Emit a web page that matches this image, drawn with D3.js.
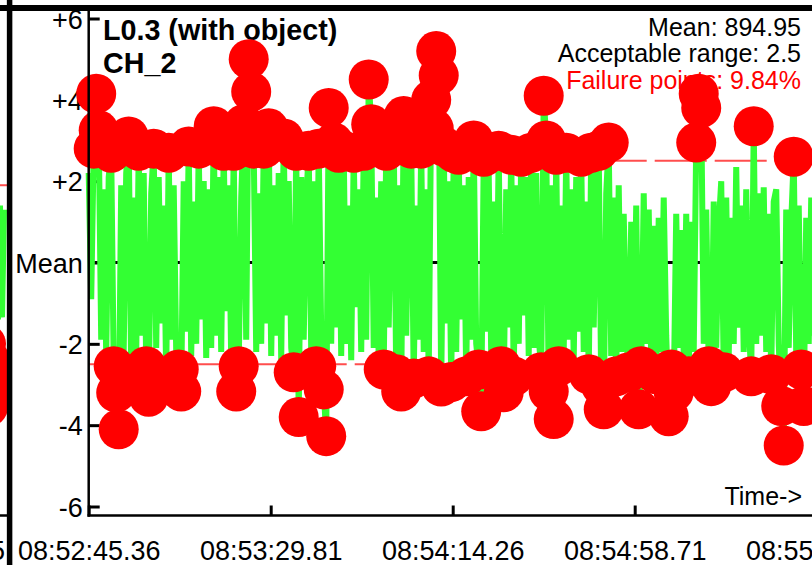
<!DOCTYPE html>
<html>
<head>
<meta charset="utf-8">
<script src="https://cdn.jsdelivr.net/npm/d3@7"></script>
<style>
html,body{margin:0;padding:0;background:#fff;}
svg{display:block;font-family:"Liberation Sans",Arial,Helvetica,sans-serif;}
</style>
</head>
<body>
<svg id="chart" width="812" height="565"></svg>
<script>
// ---------------- data ----------------
const titleLines = ["L0.3 (with object)", "CH_2"];
const infoLines = ["Mean: 894.95", "Acceptable range: 2.5", "Failure points: 9.84%"];
const acceptableRange = 2.5;
const sampleInterval = 0.6106; // seconds between samples
// deviation from mean, one value per sample
const values = [
  2.2, -0.9, 2.8, 4.15, 3.25, -1.9, 1.8, -2.3, 2.1, 2.7,
  -2.55, -3.2, -4.1, 1.9, -2.2, 2.2, 3.1, -2.75, 1.6, -2.3,
  2.75, -1.8, 2.2, -2.55, -3.3, 1.7, 2.8, -2.1, 2.1, -1.5,
  1.4, -2.8, 2.7, -1.9, 1.9, -2.2, -2.63, -3.17, 2.0, -1.7,
  2.85, -2.3, 1.5, -2.0, 2.8, -1.4, 2.0, -2.35, 1.8, -2.1,
  3.35, -1.8, 2.1, -2.2, 2.75, -1.2, 1.9, -2.4, 2.75, -3.17,
  -2.55, 1.6, 3.4, -1.9, 5.0, 4.2, 2.8, -2.2, 1.7, -2.0,
  2.8, -1.5, 3.3, -2.3, 1.9, -1.8, 2.2, -2.4, 3.05, -1.3,
  2.0, -2.1, -2.7, 2.75, -3.8, 2.1, -1.9, 1.5, 2.75, -2.2,
  2.0, -2.55, 2.8, -1.7, -3.12, -4.27, 3.8, -2.0, 2.95, -1.6,
  2.7, -2.3, 2.75, -2.0, 1.4, -2.4, 2.7, -1.1, 1.8, -2.2,
  2.75, -1.9, 4.5, 3.4, -2.1, 1.6, -2.4, 2.0, -2.63, 2.75,
  -1.6, 2.2, 3.05, -2.75, 1.9, -3.17, 3.6, -1.8, 2.1, 2.8,
  -2.85, 1.4, -1.9, 2.8, -2.2, 1.8, -2.8, 4.0, 3.3, 5.2,
  4.6, -3.05, 2.85, -1.5, 2.0, -2.94, 2.7, -2.2, 2.65, -1.4,
  1.9, -2.8, 2.1, -1.9, 3.0, -2.0, -2.63, -3.66, 2.6, -1.7,
  2.2, -2.3, 1.5, -2.1, 2.75, -2.55, -3.19, 1.8, -1.6, 2.65,
  -2.8, 1.9, -2.0, 2.6, -1.3, 2.1, -2.3, 2.7, -2.1, 2.2,
  -1.8, -2.7, 4.1, 3.0, -3.17, 1.9, -3.85, 2.65, -2.55, 1.4,
  -2.2, 2.7, -1.9, 1.8, -2.4, 2.1, -1.7, 2.6, -2.2, 1.5,
  -2.75, 2.7, -1.6, 1.9, 2.75, -3.04, -3.61, 1.7, 2.95, -2.3,
  1.6, -2.8, 1.9, -2.2, 1.2, -1.8, -2.7, 1.0, -2.3, 1.4,
  -3.61, -2.55, 1.7, -2.0, 1.3, -2.4, 0.9, -2.75, 1.1, -2.2,
  1.6, -1.8, -3.78, -2.63, -3.19, 1.2, -2.1, 0.8, -2.3, 1.2,
  -2.8, 1.0, -2.2, 2.95, 4.15, 3.8, -2.0, 1.3, -2.55, -3.04,
  1.5, -2.1, 0.9, 2.0, -2.7, 1.6, -2.3, 1.1, -2.0, 2.35,
  -1.6, 1.4, -2.2, 1.8, -1.5, -2.8, 3.35, -2.0, 1.7, -1.8,
  1.85, -2.2, 1.2, -2.75, 1.5, 1.8, -2.0, -3.53, -4.5, 1.3,
  -2.1, 1.0, 2.6, -2.3, 1.4, -2.63, -3.53, 1.1, -2.0, 1.6,
  -1.8, 0.9, -2.2, 1.3, -1.5, 1.7, -2.0
];
const yTickValues = [6, 4, 2, 0, -2, -4, -6];
const yTickLabels = ["+6", "+4", "+2", "Mean", "-2", "-4", "-6"];
const xTickValues = [0, 44.45, 88.9, 133.35, 177.8]; // seconds from start
const xTickLabels = ["08:52:45.36", "08:53:29.81", "08:54:14.26", "08:54:58.71", "08:55:43.16"];
const axisTitleX = "Time->";
// tail of the neighbouring panel on the left
const prevValues = [-2.0, -3.55, -2.4, -3.2, -2.8, 1.35, -1.4, 1.4, -1.35, 1.3];
const prevLimit = 1.9;
const prevTickLabel = "08:52:00.95";

// ---------------- drawing ----------------
const svg = d3.select("#chart");
const W = 812, H = 565;
const GREEN = "#33ff33", RED = "#ff0000", LIMIT = "#ff4d4d";

const x = d3.scaleLinear().domain([0, 177.8]).range([88.7, 816.7]);
const y = d3.scaleLinear().domain([-6, 6]).range([506.5, 18.5]);
const axisY = 515.5;

const data = values.map((v, i) => ({ t: i * sampleInterval, v }));
const failures = data.filter(d => Math.abs(d.v) > acceptableRange);

// neighbouring panel remnant (clipped to the left strip)
const defs = svg.append("defs");
defs.append("clipPath").attr("id", "prevClip").append("rect")
  .attr("x", 0).attr("y", 0).attr("width", 7).attr("height", H);
const prevX = d3.scaleLinear().domain([0, prevValues.length - 1]).range([-14, 4]);
const prev = svg.append("g").attr("clip-path", "url(#prevClip)");
prev.append("line").attr("x1", -20).attr("x2", 7)
  .attr("y1", y(prevLimit)).attr("y2", y(prevLimit))
  .attr("stroke", LIMIT).attr("stroke-width", 2);
prev.append("path").datum(prevValues.map((v, i) => [prevX(i), y(v)]).slice(4))
  .attr("d", d3.line()).attr("fill", "none").attr("stroke", GREEN)
  .attr("stroke-width", 6).attr("stroke-linejoin", "bevel");
prev.selectAll("circle").data(prevValues.slice(0, 5)).join("circle")
  .attr("cx", (d, i) => prevX(i)).attr("cy", d => y(d)).attr("r", 20).attr("fill", RED);
prev.append("line").attr("x1", -20).attr("x2", 7).attr("y1", axisY).attr("y2", axisY)
  .attr("stroke", "#000").attr("stroke-width", 2.5);
svg.append("text").attr("x", 5).attr("y", 560).attr("text-anchor", "end")
  .attr("font-size", 27).attr("fill", "#000").text(prevTickLabel);

// titles and info
const title = svg.append("g").attr("font-size", 28.7).attr("font-weight", "bold").attr("fill", "#000");
titleLines.forEach((t, i) => title.append("text").attr("x", 103).attr("y", 40 + i * 33).text(t));
const info = svg.append("g").attr("font-size", 25).attr("text-anchor", "end");
infoLines.forEach((t, i) => info.append("text").attr("x", 801).attr("y", [36, 62, 89][i])
  .attr("fill", i === 2 ? RED : "#000").text(t));

// axes (ticks + labels) below data
const yAxis = d3.axisLeft(y).tickValues(yTickValues)
  .tickFormat((d, i) => yTickLabels[i]).tickSize(-11).tickPadding(6);
const gy = svg.append("g").attr("transform", `translate(${x(0)},0)`).call(yAxis);
gy.select(".domain").remove();
gy.selectAll(".tick line").attr("stroke", "#000").attr("stroke-width", 3);
gy.selectAll(".tick text").attr("font-size", 27).attr("font-family", "Liberation Sans, Arial, sans-serif")
  .attr("fill", "#000").attr("dy", "0.36em");

const xAxis = d3.axisBottom(x).tickValues(xTickValues)
  .tickFormat((d, i) => xTickLabels[i]).tickSize(-10).tickPadding(25);
const gx = svg.append("g").attr("transform", `translate(0,${axisY})`).call(xAxis);
gx.select(".domain").remove();
gx.selectAll(".tick line").attr("stroke", "#000").attr("stroke-width", 3);
gx.selectAll(".tick text").attr("font-size", 27).attr("font-family", "Liberation Sans, Arial, sans-serif")
  .attr("fill", "#000");

// mean line
svg.append("line").attr("x1", x(0)).attr("x2", W).attr("y1", y(0)).attr("y2", y(0))
  .attr("stroke", "#000").attr("stroke-width", 3);

// acceptable range limits
[acceptableRange, -acceptableRange].forEach(v => {
  svg.append("line").attr("x1", x(0)).attr("x2", W).attr("y1", y(v)).attr("y2", y(v))
    .attr("stroke", LIMIT).attr("stroke-width", 2)
    .attr("stroke-dasharray", "52,8").attr("stroke-dashoffset", 34);
});

// series line
svg.append("path").datum(data)
  .attr("d", d3.line().x(d => x(d.t)).y(d => y(d.v)))
  .attr("fill", "none").attr("stroke", GREEN).attr("stroke-width", 6)
  .attr("stroke-linejoin", "bevel");

// failure points
svg.append("g").selectAll("circle").data(failures).join("circle")
  .attr("cx", d => x(d.t)).attr("cy", d => y(d.v)).attr("r", 20).attr("fill", RED);

// axis lines on top
svg.append("line").attr("x1", x(0)).attr("x2", x(0)).attr("y1", 11).attr("y2", axisY + 1.2)
  .attr("stroke", "#000").attr("stroke-width", 2.5);
svg.append("line").attr("x1", x(0) - 1.2).attr("x2", W).attr("y1", axisY).attr("y2", axisY)
  .attr("stroke", "#000").attr("stroke-width", 2.5);

svg.append("text").attr("x", 802).attr("y", 505).attr("text-anchor", "end")
  .attr("font-size", 25).attr("fill", "#000").text(axisTitleX);

// panel frame
svg.append("line").attr("x1", 0).attr("x2", W).attr("y1", 8).attr("y2", 8)
  .attr("stroke", "#000").attr("stroke-width", 6);
svg.append("line").attr("x1", 9.6).attr("x2", 9.6).attr("y1", 0).attr("y2", H)
  .attr("stroke", "#000").attr("stroke-width", 5.5);
</script>
</body>
</html>
